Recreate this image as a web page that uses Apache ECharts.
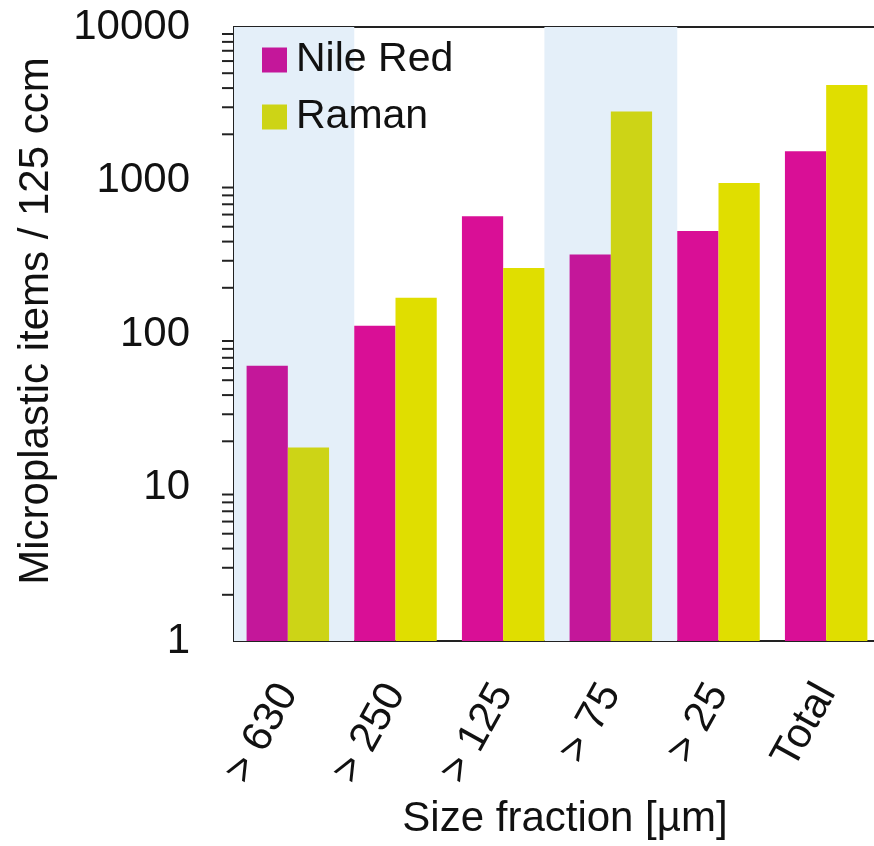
<!DOCTYPE html>
<html>
<head>
<meta charset="utf-8">
<script src="https://cdn.jsdelivr.net/npm/echarts@6/dist/echarts.min.js"></script>
<style>
html,body{margin:0;padding:0;background:#fff;}
#chart{width:874px;height:846px;}
</style>
</head>
<body>
<div id="chart"></div>
<script>
var categories = ['> 630', '> 250', '> 125', '> 75', '> 25', 'Total'];
var nileRed = [62, 113, 585, 330, 469, 1550];
var raman = [18.2, 172, 269, 2820, 963, 4190];
var shadedCategories = ['> 630', '> 75'];
var yTickLabels = ['1', '10', '100', '1000', '10000'];

var FONT = "'Liberation Sans', Arial, sans-serif";
var NR_COLOR = '#D90F96', NR_SHADED = '#C4179A';
var RA_COLOR = '#E0DE00', RA_SHADED = '#CDD416';
var BAND = '#E4EFF9';
var CAT_GAP = 0.234;
var halfGroup = (1 - CAT_GAP) / 2;

function barData(vals, c, cs) {
  return vals.map(function (v, i) {
    var shaded = shadedCategories.indexOf(categories[i]) >= 0;
    return { value: v, itemStyle: { color: shaded ? cs : c } };
  });
}

var bands = shadedCategories.map(function (name) {
  var i = categories.indexOf(name);
  var from = Math.max(-0.5, i - 1 + halfGroup);
  var to = Math.min(categories.length - 0.5, i + 1 - halfGroup);
  return [{ xAxis: from }, { xAxis: to }];
});

var minorTicks = [];
for (var d = 1; d < 10000; d *= 10) {
  for (var k = 2; k <= 9; k++) minorTicks.push([0, k * d]);
}

var chart = echarts.init(document.getElementById('chart'), null, { renderer: 'canvas' });
chart.setOption({
  animation: false,
  backgroundColor: '#fff',
  textStyle: { fontFamily: FONT },
  grid: {
    left: 234, top: 27, width: 646, height: 614,
    outerBoundsMode: 'none', containLabel: false,
    show: true, borderColor: '#222', borderWidth: 2, backgroundColor: 'transparent'
  },
  legend: {
    orient: 'vertical', left: 262, top: 36, padding: 0,
    icon: 'rect', itemWidth: 25, itemHeight: 25, itemGap: 9,
    textStyle: { fontSize: 41, color: '#111', lineHeight: 48, padding: [0, 0, 0, 4], fontFamily: FONT },
    data: [
      { name: 'Nile Red', itemStyle: { color: NR_SHADED } },
      { name: 'Raman', itemStyle: { color: RA_SHADED } }
    ]
  },
  xAxis: [{
    type: 'category', data: categories,
    axisLine: { show: true, lineStyle: { color: '#222', width: 2 } },
    axisTick: { show: false },
    axisLabel: { rotate: 61, fontSize: 42, color: '#111', margin: 46, fontFamily: FONT },
    name: 'Size fraction [µm]', nameLocation: 'middle', nameGap: 157,
    nameTextStyle: { fontSize: 42, color: '#111', padding: [0, 0, 0, 16], fontFamily: FONT }
  }, {
    type: 'value', min: -0.5, max: categories.length - 0.5, show: false
  }],
  yAxis: {
    type: 'log', logBase: 10, min: 1, max: 10000,
    axisLine: { show: true, lineStyle: { color: '#222', width: 2 } },
    axisTick: { show: true, length: 15, lineStyle: { color: '#222', width: 2 } },
    splitLine: { show: false },
    axisLabel: {
      fontSize: 42, color: '#111', margin: 44, fontFamily: FONT,
      formatter: function (v) { var s = String(Math.round(v)); return yTickLabels.indexOf(s) >= 0 ? s : ''; }
    },
    name: 'Microplastic items / 125 ccm', nameLocation: 'middle', nameRotate: 90, nameGap: 177,
    nameTextStyle: { fontSize: 42, color: '#111', padding: [0, 0, 0, 26], fontFamily: FONT }
  },
  series: [{
    type: 'line', xAxisIndex: 1, yAxisIndex: 0, data: [], silent: true, z: 0,
    markArea: { silent: true, itemStyle: { color: BAND }, data: bands }
  }, {
    name: 'Nile Red', type: 'bar', data: barData(nileRed, NR_COLOR, NR_SHADED),
    barGap: '0%', barCategoryGap: (CAT_GAP * 100) + '%', z: 2
  }, {
    name: 'Raman', type: 'bar', data: barData(raman, RA_COLOR, RA_SHADED),
    barGap: '0%', barCategoryGap: (CAT_GAP * 100) + '%', z: 2
  }, {
    type: 'custom', silent: true, z: 3, clip: false,
    data: minorTicks,
    encode: { x: 0, y: 1 },
    renderItem: function (params, api) {
      var y = api.coord([0, api.value(1)])[1];
      var x = params.coordSys.x;
      return { type: 'line', shape: { x1: x - 12, y1: y, x2: x, y2: y }, style: { stroke: '#222', lineWidth: 2 } };
    }
  }]
});
</script>
</body>
</html>
